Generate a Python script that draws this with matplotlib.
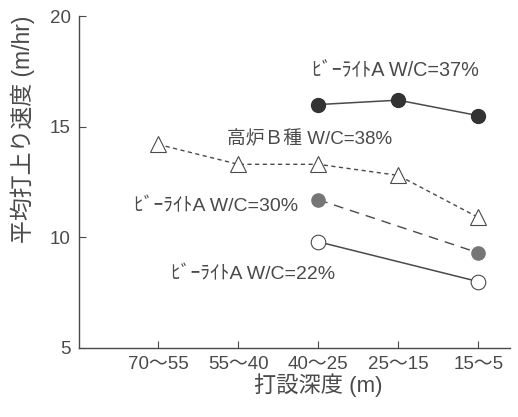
import matplotlib.pyplot as plt
import numpy as np

plt.rcParams['font.family'] = ['Liberation Sans', 'Noto Sans CJK JP', 'DejaVu Sans']
plt.rcParams['font.size'] = 12

depths = ['70～55', '55～40', '40～25', '25～15', '15～5']
x = np.arange(len(depths))

# 打上り速度 (m/hr)
belite37 = [np.nan, np.nan, 16.0, 16.2, 15.5]
blast38 = [14.2, 13.3, 13.3, 12.8, 10.9]
belite30 = [np.nan, np.nan, 11.7, np.nan, 9.3]
belite22 = [np.nan, np.nan, 9.8, np.nan, 8.0]

ink = '#4a4a4a'

fig = plt.figure(figsize=(5.18, 4.17), dpi=100)
ax = fig.add_axes([0.1525, 0.1655, 0.8325, 0.796])

def plot_series(vals, **kw):
    v = np.array(vals, dtype=float)
    m = ~np.isnan(v)
    ax.plot(x[m], v[m], **kw)

plot_series(belite37, color=ink, lw=1.1, ls='-', marker='o', ms=10,
            mfc='#333333', mec='#333333')
plot_series(blast38, color=ink, lw=1.0, ls=(0, (3, 2.5)), marker='^', ms=11.5,
            mfc='white', mec=ink, mew=0.8)
plot_series(belite30, color=ink, lw=1.0, ls=(0, (7, 5)), marker='o', ms=9.5,
            mfc='#767676', mec='#767676')
plot_series(belite22, color=ink, lw=1.1, ls='-', marker='o', ms=10.5,
            mfc='white', mec=ink, mew=0.8)

ax.text(2.96, 17.55, 'ﾋﾞｰﾗｲﾄA W/C=37%', ha='center', va='center', color=ink, fontsize=14.3)
ax.text(1.89, 14.4, '高炉Ｂ種 W/C=38%', ha='center', va='center', color=ink, fontsize=13.5)
ax.text(0.72, 11.37, 'ﾋﾞｰﾗｲﾄA W/C=30%', ha='center', va='center', color=ink, fontsize=14)
ax.text(1.18, 8.3, 'ﾋﾞｰﾗｲﾄA W/C=22%', ha='center', va='center', color=ink, fontsize=14)

ax.set_xlim(-0.99, 4.4)
ax.set_ylim(5, 20)
ax.set_xticks(x)
ax.set_xticklabels(depths)
ax.set_yticks([5, 10, 15, 20])
ax.tick_params(direction='in', length=5, colors=ink, labelsize=13.5, pad=6)
for s in ['top', 'right']:
    ax.spines[s].set_visible(False)
for s in ['left', 'bottom']:
    ax.spines[s].set_color(ink)
    ax.spines[s].set_linewidth(1.0)

ax.set_xlabel('打設深度 (m)', color=ink, fontsize=16)
ax.xaxis.set_label_coords((2 + 0.99) / 5.39, -0.075)
ax.set_ylabel('平均打上り速度 (m/hr)', color=ink, fontsize=16.5)
ax.yaxis.set_label_coords(-0.102, 0.66)

fig.savefig('out.png', dpi=100)
